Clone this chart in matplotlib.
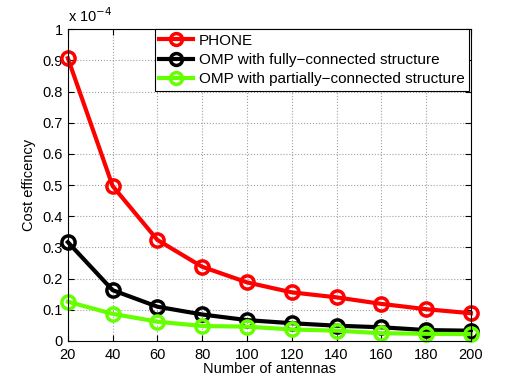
import numpy as np
import matplotlib.pyplot as plt

plt.rcParams['font.family'] = ['Liberation Sans', 'DejaVu Sans']

# Cost efficiency values, in units of 1e-4
antennas = [20, 40, 60, 80, 100, 120, 140, 160, 180, 200]
phone = [0.907, 0.497, 0.324, 0.238, 0.188, 0.156, 0.140, 0.119, 0.102, 0.089]
omp_full = [0.317, 0.163, 0.110, 0.085, 0.067, 0.057, 0.049, 0.044, 0.035, 0.033]
omp_partial = [0.126, 0.087, 0.062, 0.048, 0.046, 0.037, 0.033, 0.025, 0.023, 0.022]

labels = ['PHONE', 'OMP with fully\u2212connected structure',
          'OMP with partially\u2212connected structure']
colors = ['#ff0000', '#000000', '#66ff00']

fig = plt.figure(figsize=(5.18, 3.84), dpi=100)
ax = fig.add_axes([0.131, 0.112, 0.778, 0.812])

for ys, lab, c in zip([phone, omp_full, omp_partial], labels, colors):
    ax.plot(antennas, ys, '-o', color=c, lw=3, markersize=9.5,
            markerfacecolor='none', markeredgewidth=2.5, label=lab, clip_on=False)

ax.set_xlim(20, 200)
ax.set_ylim(0, 1)
ax.set_xticks(antennas)
ax.set_yticks(np.arange(0, 1.01, 0.1))
ax.set_yticklabels(['0', '0.1', '0.2', '0.3', '0.4', '0.5', '0.6', '0.7', '0.8', '0.9', '1'])
ax.grid(True, linestyle=':', color='#a0a0a0', linewidth=0.8)
ax.tick_params(direction='in', labelsize=10.5, top=True, right=True, length=4)
ax.tick_params(axis='x', pad=5)
for s in ax.spines.values():
    s.set_linewidth(0.8)

ax.set_xlabel('Number of antennas', fontsize=10.5, labelpad=0)
ax.set_ylabel('Cost efficency', fontsize=10.5, labelpad=5)
ax.text(0.0, 1.015, 'x 10$^{-4}$', transform=ax.transAxes, fontsize=10.5,
        ha='left', va='bottom')

leg = ax.legend(loc='upper right', fontsize=11, fancybox=False, framealpha=1,
                edgecolor='black', borderaxespad=0.0, handlelength=2.2,
                borderpad=0.3, labelspacing=0.35, handletextpad=0.4,
                markerscale=0.9, bbox_to_anchor=(0.996, 1.0))
leg.get_frame().set_linewidth(0.8)

fig.savefig('out.png', dpi=100)
